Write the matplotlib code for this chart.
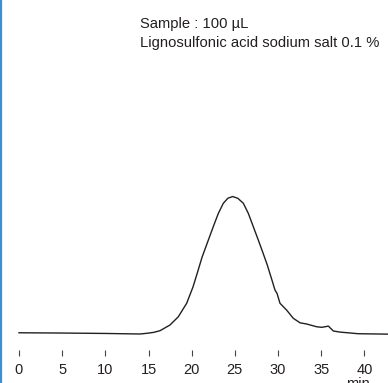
import matplotlib
matplotlib.use('Agg')
import matplotlib.pyplot as plt

plt.rcParams['font.family'] = ['Liberation Sans', 'DejaVu Sans']

# chromatogram (time in min, detector response, peak = 100)
time_min = [0, 5, 10, 14.0, 14.8, 15.6, 16.33, 17.49, 18.45, 19.42, 20.15, 20.7,
            21.2, 21.93, 22.5, 23.09, 23.67, 24.2, 24.75, 25.35, 25.98, 26.56,
            27.14, 27.72, 28.3, 28.75, 29.3, 29.65, 29.89, 30.23, 31.0, 31.77,
            32.55, 33.33, 34.48, 35.06, 35.45, 35.83, 36.41, 37.18, 39.3, 42.8]
signal = [0.2, 0.0, -0.3, -0.7, -0.2, 0.5, 1.7, 5.9, 11.9, 21.8, 33.7, 45.0,
          55.5, 68.1, 77.9, 87.7, 95.1, 98.8, 100.0, 98.7, 95.1, 87.7,
          77.9, 68.1, 58.0, 50.0, 38.8, 31.5, 29.0, 21.8, 16.8, 10.8,
          7.5, 6.6, 4.6, 4.2, 4.6, 5.1, 1.5, 0.7, -0.5, -0.8]
ticks = [0, 5, 10, 15, 20, 25, 30, 35, 40]
notes = ["Sample : 100 µL", "Lignosulfonic acid sodium salt 0.1 %"]

fig = plt.figure(figsize=(3.88, 3.83), dpi=100)
ax = fig.add_axes([0, 0, 1, 1])
ax.plot(time_min, signal, color='#231f20', lw=1.0)
ax.set_xlim(-2.2, 42.74)
ax.set_ylim(-36.6, 244)

for s in ['left', 'right', 'top', 'bottom']:
    ax.spines[s].set_visible(False)
ax.spines['bottom'].set_position(('data', -12.4))
ax.set_yticks([])
ax.set_xticks(ticks)
ax.set_xticklabels([str(t) for t in ticks])
ax.tick_params(axis='x', direction='out', length=4.5, width=0.8, color='#444444',
               pad=5, labelsize=10.5, labelcolor='#231f20')

ax.text(39.3, -32.0, 'min', fontsize=10.5, color='#231f20', ha='center', va='top')
ax.text(0.36, 0.937, notes[0], transform=ax.transAxes, fontsize=10.6,
        color='#231f20', ha='left', va='center')
ax.text(0.36, 0.888, notes[1], transform=ax.transAxes, fontsize=10.6,
        color='#231f20', ha='left', va='center')

# blue rule down the left edge
fig.add_artist(plt.Line2D([0.003, 0.003], [0, 1], transform=fig.transFigure,
                          color='#3a8fd6', lw=1.6))

fig.savefig('out.png', dpi=100)
